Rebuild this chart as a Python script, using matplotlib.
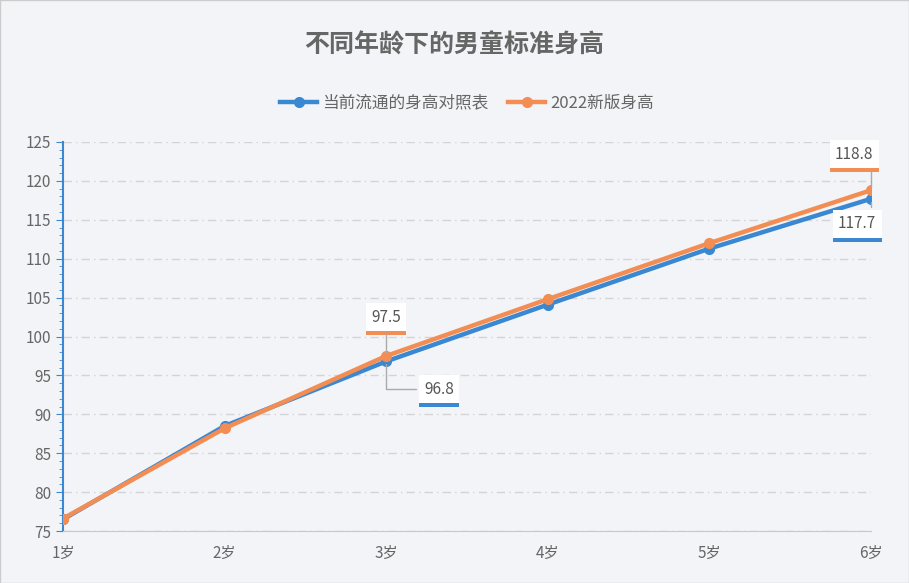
import matplotlib
matplotlib.use("Agg")
import matplotlib.pyplot as plt
from matplotlib.ticker import MultipleLocator

plt.rcParams['font.family'] = ['Noto Sans CJK SC', 'DejaVu Sans']

categories = ["1岁", "2岁", "3岁", "4岁", "5岁", "6岁"]
current = [76.5, 88.5, 96.8, 104.1, 111.3, 117.7]
new2022 = [76.6, 88.2, 97.5, 104.8, 112.0, 118.8]
name_cur = "当前流通的身高对照表"
name_new = "2022新版身高"
blue = "#3A87D2"
orange = "#F28E53"
bg = "#F3F4F8"

fig = plt.figure(figsize=(9.09, 5.83), dpi=100, facecolor=bg)
ax = fig.add_axes([63/909, 52/583, 808/909, 389/583], facecolor=bg)
x = list(range(len(categories)))
ax.plot(x, current, color=blue, lw=3.2, marker='o', ms=7, label=name_cur, zorder=3)
ax.plot(x, new2022, color=orange, lw=3.2, marker='o', ms=7, label=name_new, zorder=4)

ax.set_xlim(0, 5)
ax.set_ylim(75, 125)
ax.yaxis.set_major_locator(MultipleLocator(5))
ax.yaxis.set_minor_locator(MultipleLocator(1))
ax.set_xticks(x)
ax.set_xticklabels(categories)
ax.tick_params(axis='both', labelsize=11, labelcolor='#666666')
ax.tick_params(axis='y', which='both', color=blue, direction='out')
ax.tick_params(axis='y', which='major', length=5)
ax.tick_params(axis='y', which='minor', length=3)
ax.tick_params(axis='x', length=0, pad=10)
ax.grid(axis='y', color='#D3D3D8', linestyle=(0, (6, 3, 1, 3)), lw=1)
for s in ['top', 'right']:
    ax.spines[s].set_visible(False)
ax.spines['left'].set_color(blue)
ax.spines['left'].set_linewidth(1.5)
ax.spines['bottom'].set_color('#C8C8C8')

def label(xi, yi, txt, dx, dy, col):
    # coloured bottom shadow
    ax.annotate(txt, (xi, yi), xytext=(dx, dy - 3), textcoords='offset points',
                fontsize=11, color=col, ha='center', va='center',
                bbox=dict(boxstyle='square,pad=0.35', fc=col, ec='none'), zorder=5)
    ax.annotate(txt, (xi, yi), xytext=(dx, dy), textcoords='offset points',
                fontsize=11, color='#555555', ha='center', va='center',
                bbox=dict(boxstyle='square,pad=0.35', fc='white', ec='none'),
                arrowprops=dict(arrowstyle='-', color='#AAAAAA', lw=1,
                                connectionstyle='angle,angleA=0,angleB=90'),
                zorder=6)

label(2, 97.5, "97.5", 0, 28, orange)
label(2, 96.8, "96.8", 38, -20, blue)
label(5, 118.8, "118.8", -12, 26, orange)
label(5, 117.7, "117.7", -10, -18, blue)

fig.text(0.5, 0.922, "不同年龄下的男童标准身高", ha='center', va='center',
         fontsize=18, fontweight='bold', color='#666666')
ax.legend(loc='upper center', bbox_to_anchor=(0.5, 1.16), ncol=2, frameon=False,
          fontsize=12, labelcolor='#666666', handlelength=2.2, columnspacing=1.2,
          handletextpad=0.3)

fig.patches.append(plt.Rectangle((0, 0), 1, 1, transform=fig.transFigure,
                                 fill=False, ec='#CCCCCC', lw=1))
fig.savefig("out.png", dpi=100, facecolor=bg)
